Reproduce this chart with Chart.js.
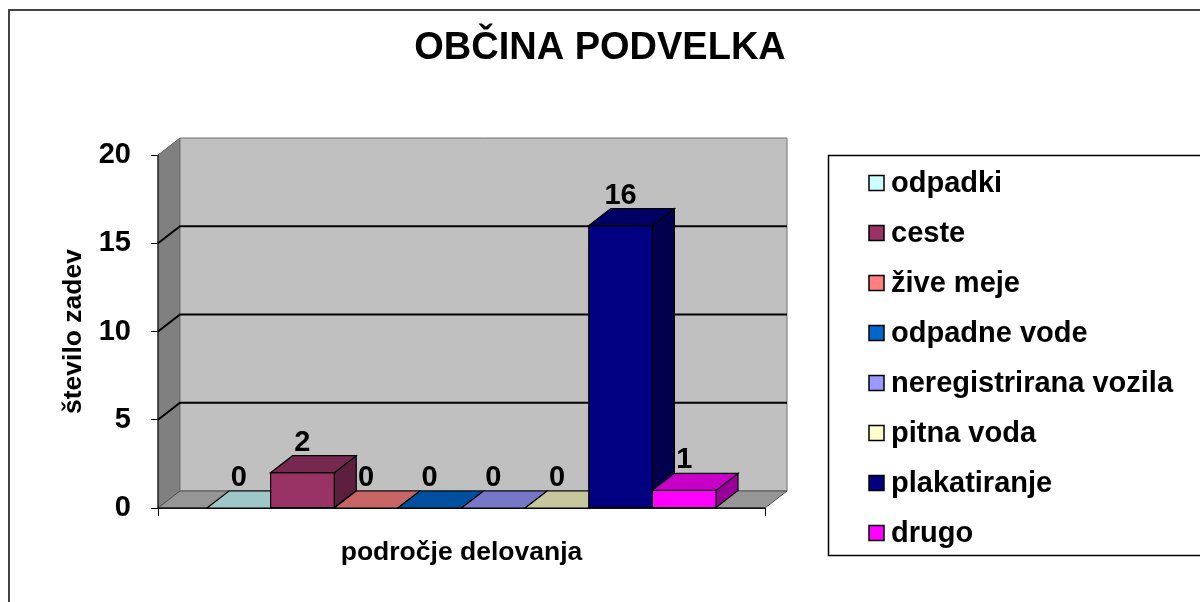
<!DOCTYPE html>
<html>
<head>
<meta charset="utf-8">
<script src="https://cdn.jsdelivr.net/npm/chart.js@4.4.1/dist/chart.umd.min.js"></script>
<style>
html,body{margin:0;padding:0;background:#ffffff;}
#wrap{width:1200px;height:602px;}
</style>
</head>
<body>
<div id="wrap"><canvas id="c" width="1200" height="602"></canvas></div>
<script>
// ---- data ----
const chartTitle = 'OBČINA PODVELKA';
const categories = ['področje delovanja'];
const seriesNames = ['odpadki', 'ceste', 'žive meje', 'odpadne vode', 'neregistrirana vozila', 'pitna voda', 'plakatiranje', 'drugo'];
const seriesValues = [0, 2, 0, 0, 0, 0, 16, 1];
const seriesColors = ['#CCFFFF', '#993366', '#FF8080', '#0066CC', '#9999FF', '#FFFFCC', '#000080', '#FF00FF'];
const yTicks = [0, 5, 10, 15, 20];
const yTitle = 'število zadev';
const xTitle = 'področje delovanja';

// ---- style ----
const FONT = "'Liberation Sans', Arial, Helvetica, sans-serif";
const DX = 22, DY = 17;

function shade(hex, f) {
  const n = parseInt(hex.slice(1), 16);
  const r = Math.round(((n >> 16) & 255) * f);
  const g = Math.round(((n >> 8) & 255) * f);
  const b = Math.round((n & 255) * f);
  return 'rgb(' + r + ',' + g + ',' + b + ')';
}

function poly(ctx, pts, fill, stroke, lw) {
  ctx.beginPath();
  ctx.moveTo(pts[0][0], pts[0][1]);
  for (let i = 1; i < pts.length; i++) ctx.lineTo(pts[i][0], pts[i][1]);
  ctx.closePath();
  if (fill) { ctx.fillStyle = fill; ctx.fill(); }
  if (stroke) { ctx.strokeStyle = stroke; ctx.lineWidth = lw || 1; ctx.stroke(); }
}

const threeD = {
  id: 'threeD',
  beforeDatasetsDraw(chart) {
    const ctx = chart.ctx;
    const a = chart.chartArea;
    const y = chart.scales.y;
    ctx.save();
    ctx.lineJoin = 'miter';
    // side wall
    poly(ctx, [[a.left, a.top], [a.left + DX, a.top - DY], [a.left + DX, a.bottom - DY], [a.left, a.bottom]], '#808080', '#606060', 1);
    // back wall
    poly(ctx, [[a.left + DX, a.top - DY], [a.right + DX, a.top - DY], [a.right + DX, a.bottom - DY], [a.left + DX, a.bottom - DY]], '#C0C0C0', '#707070', 1);
    // floor
    poly(ctx, [[a.left, a.bottom], [a.right, a.bottom], [a.right + DX, a.bottom - DY], [a.left + DX, a.bottom - DY]], '#969696', '#505050', 1);
    // gridlines on walls
    ctx.strokeStyle = '#000';
    ctx.lineWidth = 2;
    y.ticks.forEach(t => {
      if (t.value <= y.min || t.value >= y.max) return;
      const py = y.getPixelForValue(t.value);
      ctx.beginPath();
      ctx.moveTo(a.left, py);
      ctx.lineTo(a.left + DX, py - DY);
      ctx.lineTo(a.right + DX, py - DY);
      ctx.stroke();
    });
    // front axis lines
    ctx.lineWidth = 1;
    ctx.beginPath();
    ctx.moveTo(a.left, a.top);
    ctx.lineTo(a.left, a.bottom);
    ctx.lineTo(a.right, a.bottom);
    ctx.stroke();

    // 3D bars, left to right
    const boxes = [];
    chart.data.datasets.forEach((ds, i) => {
      const meta = chart.getDatasetMeta(i);
      meta.data.forEach(bar => {
        const p = bar.getProps(['x', 'y', 'base', 'width'], true);
        const l = p.x - p.width / 2, r = p.x + p.width / 2;
        const top = Math.min(p.y, p.base), base = Math.max(p.y, p.base);
        const col = ds.backgroundColor;
        // side face
        poly(ctx, [[r, top], [r + DX, top - DY], [r + DX, base - DY], [r, base]], shade(col, 0.6), '#000', 1.2);
        // front face
        poly(ctx, [[l, top], [r, top], [r, base], [l, base]], col, '#000', 1.2);
        // top face
        poly(ctx, [[l, top], [r, top], [r + DX, top - DY], [l + DX, top - DY]], shade(col, 0.78), '#000', 1.2);
        boxes.push({x: p.x, top: top, v: ds.data[0]});
      });
    });
    // value labels
    ctx.fillStyle = '#000';
    ctx.font = 'bold 29px ' + FONT;
    ctx.textAlign = 'center';
    ctx.textBaseline = 'middle';
    boxes.forEach(b => ctx.fillText(String(b.v), b.x, b.top - DY - 13));
    ctx.restore();
    return false;
  },
  afterDraw(chart) {
    const ctx = chart.ctx;
    ctx.save();
    // legend
    ctx.strokeStyle = '#000';
    ctx.lineWidth = 1.5;
    ctx.strokeRect(828.5, 155.5, 420, 400);
    ctx.font = 'bold 29px ' + FONT;
    ctx.textAlign = 'left';
    ctx.textBaseline = 'middle';
    chart.data.datasets.forEach((ds, i) => {
      const cy = 183 + 50 * i;
      ctx.fillStyle = ds.backgroundColor;
      ctx.fillRect(869, cy - 7.5, 15, 15);
      ctx.lineWidth = 1.5;
      ctx.strokeStyle = '#000';
      ctx.strokeRect(869, cy - 7.5, 15, 15);
      ctx.fillStyle = '#000';
      ctx.fillText(ds.label, 891, cy + 1);
    });
    // outer frame
    ctx.strokeStyle = '#444';
    ctx.lineWidth = 2;
    ctx.strokeRect(9, 10, 1400, 800);
    ctx.restore();
  }
};

new Chart(document.getElementById('c'), {
  type: 'bar',
  data: {
    labels: categories,
    datasets: seriesNames.map((n, i) => ({
      label: n,
      data: [seriesValues[i]],
      backgroundColor: seriesColors[i],
      borderColor: '#000',
      borderWidth: 1
    }))
  },
  options: {
    responsive: false,
    animation: false,
    devicePixelRatio: 1,
    layout: {padding: 0},
    datasets: {bar: {categoryPercentage: 0.8386, barPercentage: 1}},
    plugins: {
      legend: {display: false},
      tooltip: {enabled: false},
      title: {
        display: true,
        text: chartTitle,
        color: '#000',
        font: {family: FONT, size: 38, weight: 'bold'},
        padding: {top: 26, bottom: 83.4}
      }
    },
    scales: {
      x: {
        grid: {offset: true, drawOnChartArea: false, drawTicks: true, tickLength: 8, color: '#000'},
        border: {display: true, color: '#000'},
        ticks: {display: false},
        title: {display: true, text: xTitle, color: '#000', font: {family: FONT, size: 26.5, weight: 'bold'}, padding: {top: 0, bottom: 33}},
        afterFit(s) { s.height = 94; }
      },
      y: {
        min: 0,
        max: 20,
        afterBuildTicks(s) { s.ticks = yTicks.map(v => ({value: v})); },
        ticks: {color: '#000', font: {family: FONT, size: 29, weight: 'bold'}, padding: 20},
        grid: {drawOnChartArea: false, tickLength: 7, color: '#000'},
        border: {display: true, color: '#000'},
        title: {display: true, text: yTitle, color: '#000', font: {family: FONT, size: 26.5, weight: 'bold'}, padding: {top: 58, bottom: 0}},
        afterFit(s) { s.width = 158; }
      },
      gap: {
        type: 'linear',
        position: 'right',
        display: true,
        grid: {display: false},
        border: {display: false},
        ticks: {display: false},
        afterFit(s) { s.width = 435; }
      }
    }
  },
  plugins: [threeD]
});
</script>
</body>
</html>
